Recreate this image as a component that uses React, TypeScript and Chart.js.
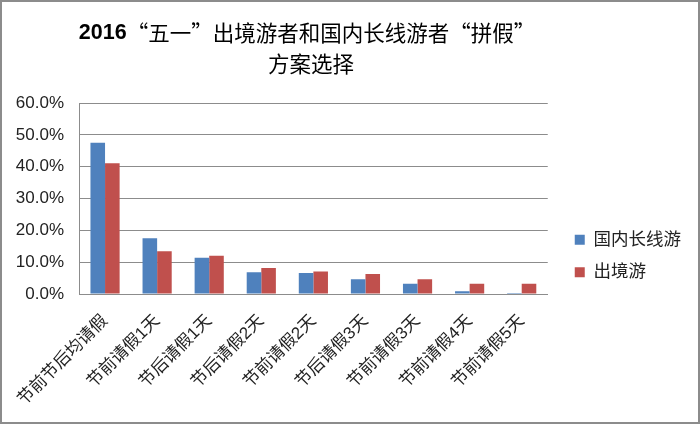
import { useEffect, useRef } from 'react';
import { Chart, registerables } from 'chart.js';

Chart.register(...registerables);

const FONT = "'Liberation Sans', 'Noto Sans CJK SC', sans-serif";
const CJK = "'Noto Sans CJK SC', sans-serif";

const titleYear = '2016';
const titleRest = '“五一”出境游者和国内长线游者“拼假”';
const titleLine2 = '方案选择';

const categories = [
  '节前节后均请假',
  '节前请假1天',
  '节后请假1天',
  '节后请假2天',
  '节前请假2天',
  '节后请假3天',
  '节前请假3天',
  '节前请假4天',
  '节前请假5天',
];
const domestic = [47.5, 17.5, 11.4, 6.8, 6.6, 4.6, 3.2, 0.9, 0.3];
const outbound = [41.1, 13.4, 12.0, 8.2, 7.1, 6.3, 4.6, 3.2, 3.2];
const seriesNames = ['国内长线游', '出境游'];

const TITLE_SIZE = 21.5;

// two-line title, "2016" in bold; quotes get a full em like in a CJK layout
const titlePlugin = {
  id: 'twoLineTitle',
  afterDraw(chart: Chart) {
    const { ctx } = chart;
    ctx.save();
    ctx.fillStyle = '#000';
    ctx.textBaseline = 'middle';
    const bold = `bold ${TITLE_SIZE}px ${FONT}`;
    const normal = `${TITLE_SIZE}px ${CJK}`;

    ctx.font = bold;
    const yearW = ctx.measureText(titleYear).width;
    const chars = Array.from(titleRest);
    const total = yearW + chars.length * TITLE_SIZE;
    let x = 305 - total / 2;
    const y1 = 31;

    ctx.textAlign = 'left';
    ctx.fillText(titleYear, x, y1);
    x += yearW;
    ctx.font = normal;
    chars.forEach((c) => {
      if (c === '“') {
        ctx.textAlign = 'right';
        ctx.fillText(c, x + TITLE_SIZE, y1);
      } else if (c === '”') {
        ctx.textAlign = 'left';
        ctx.fillText(c, x, y1);
      } else {
        ctx.textAlign = 'center';
        ctx.fillText(c, x + TITLE_SIZE / 2, y1);
      }
      x += TITLE_SIZE;
    });

    ctx.textAlign = 'center';
    ctx.fillText(titleLine2, 309, 62);
    ctx.restore();
  },
};

export default function App() {
  const canvasRef = useRef<HTMLCanvasElement>(null);
  const chartRef = useRef<Chart | null>(null);

  useEffect(() => {
    if (!canvasRef.current) return;
    if (chartRef.current) chartRef.current.destroy();

    chartRef.current = new Chart(canvasRef.current, {
      type: 'bar',
      data: {
        labels: categories,
        datasets: [
          {
            label: seriesNames[0],
            data: domestic,
            backgroundColor: '#4F81BD',
            categoryPercentage: 0.56,
            barPercentage: 1,
          },
          {
            label: seriesNames[1],
            data: outbound,
            backgroundColor: '#C0504D',
            categoryPercentage: 0.56,
            barPercentage: 1,
          },
        ],
      },
      plugins: [titlePlugin],
      options: {
        responsive: false,
        animation: false,
        layout: { padding: { top: 90, left: 0, right: 7, bottom: 2 } },
        plugins: {
          title: { display: false },
          tooltip: { enabled: false },
          legend: {
            position: 'right',
            align: 'center',
            labels: {
              boxWidth: 10,
              boxHeight: 10,
              padding: 15,
              color: '#222',
              font: { size: 17.5, family: FONT },
            },
          },
        },
        scales: {
          x: {
            grid: { display: false, drawTicks: false },
            border: { display: true, color: '#8c8c8c' },
            afterFit: (scale) => {
              // labels may hang past the left edge of the plot
              scale.height = 126;
              scale.paddingLeft = 0;
              scale.paddingRight = 0;
            },
            ticks: {
              minRotation: 45,
              maxRotation: 45,
              padding: 17,
              color: '#222',
              font: { size: 17, family: FONT },
            },
          },
          y: {
            min: 0,
            max: 60,
            grid: { color: '#8c8c8c', drawTicks: false },
            border: { display: true, color: '#8c8c8c' },
            afterFit: (scale) => {
              scale.width = 77;
              scale.paddingTop = 101;
            },
            ticks: {
              stepSize: 10,
              padding: 15,
              color: '#222',
              font: { size: 17, family: FONT },
              callback: (v) => Number(v).toFixed(1) + '%',
            },
          },
          // hidden spacer between the plot and the legend
          gap: {
            type: 'linear',
            position: 'right',
            display: false,
            afterFit: (scale) => {
              scale.width = 12;
            },
          },
        },
      },
    });

    return () => {
      if (chartRef.current) {
        chartRef.current.destroy();
        chartRef.current = null;
      }
    };
  }, []);

  return (
    <div
      style={{
        position: 'fixed',
        left: 0,
        top: 0,
        width: 700,
        height: 424,
        boxSizing: 'border-box',
        border: '2px solid #8c8c8c',
        background: '#fff',
      }}
    >
      <canvas ref={canvasRef} width={696} height={420} style={{ display: 'block' }} />
    </div>
  );
}
